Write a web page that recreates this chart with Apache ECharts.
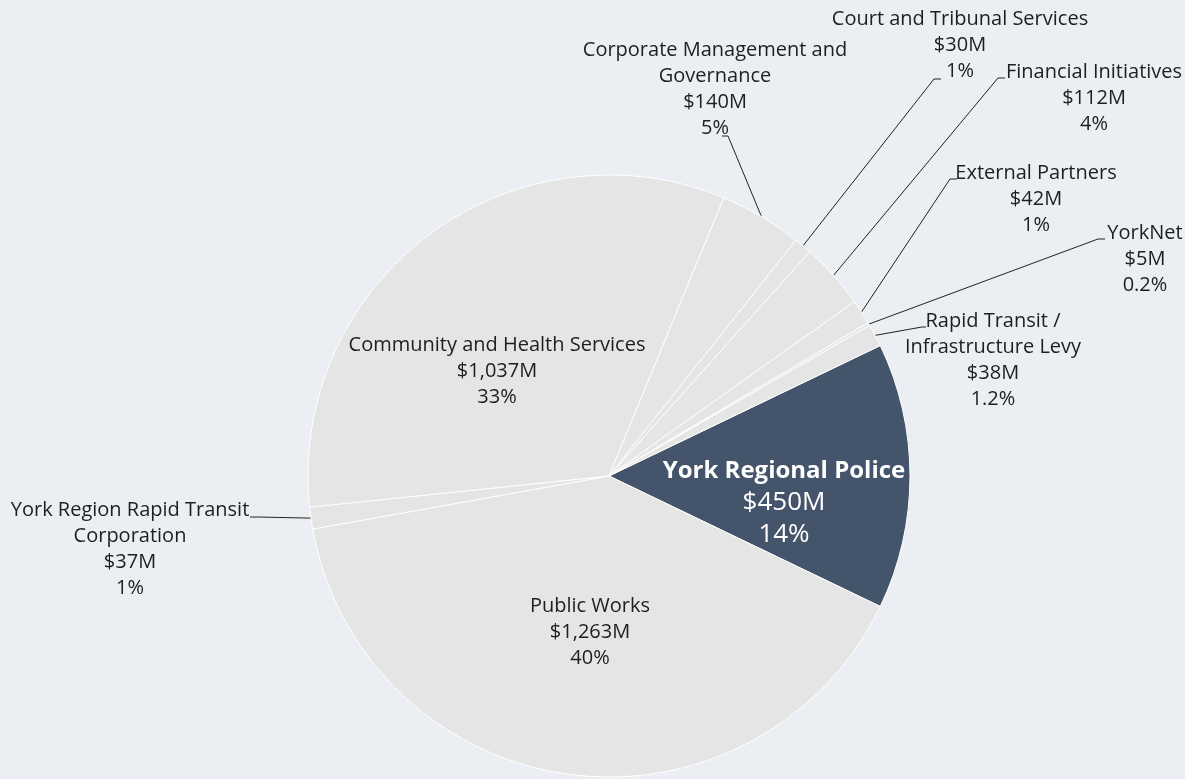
<!DOCTYPE html>
<html>
<head>
<meta charset="utf-8">
<script src="https://cdn.jsdelivr.net/npm/echarts@6/dist/echarts.min.js"></script>
<style>
html,body{margin:0;padding:0;background:#ebeff3;}
#chart{width:1185px;height:779px;}
</style>
</head>
<body>
<div id="chart"></div>
<script>
// ---- data ----
const categories = [
  'York Regional Police',
  'Public Works',
  'York Region Rapid Transit\nCorporation',
  'Community and Health Services',
  'Corporate Management and\nGovernance',
  'Court and Tribunal Services',
  'Financial Initiatives',
  'External Partners',
  'YorkNet',
  'Rapid Transit /\nInfrastructure Levy'
];
const values = [450, 1263, 37, 1037, 140, 30, 112, 42, 5, 38];
const valueLabels = ['$450M', '$1,263M', '$37M', '$1,037M', '$140M', '$30M', '$112M', '$42M', '$5M', '$38M'];
const pctLabels = ['14%', '40%', '1%', '33%', '5%', '1%', '4%', '1%', '0.2%', '1.2%'];

// ---- layout (label anchors, pixel positions) ----
const FONT = '"Open Sans", Lato, sans-serif';
const CENTER = [609, 476];
const RADIUS = 301;
const startAngle = values[0] / values.reduce((a, b) => a + b, 0) * 360 / 2;
const labelPos = {
  0: {x: 784, y: 503},
  1: {x: 590, y: 632},
  2: {x: 130, y: 549, line: [[258, 517], [250, 517]]},
  3: {x: 497, y: 371},
  4: {x: 715, y: 89, line: [[728, 136], [722, 136]]},
  5: {x: 960, y: 45, line: [[934, 79], [941, 79]]},
  6: {x: 1094, y: 98, line: [[998, 78], [1005, 78]]},
  7: {x: 1036, y: 199, line: [[950, 179], [957, 179]]},
  8: {x: 1145, y: 259, line: [[1098, 239], [1105, 239]]},
  9: {x: 993, y: 360, line: [[922, 327], [926, 327]]}
};
const insideIdx = [0, 1, 3];

const seriesData = categories.map((name, i) => {
  const inside = insideIdx.indexOf(i) >= 0;
  const item = {
    name: name,
    value: values[i],
    itemStyle: {color: i === 0 ? '#44546a' : '#e5e5e5'},
    label: {position: inside ? 'inside' : 'outside'},
    labelLine: {show: !inside}
  };
  if (i === 0) {
    item.label.formatter = '{b|' + name + '}\n{v|' + valueLabels[i] + '}\n{v|' + pctLabels[i] + '}';
    item.label.rich = {
      b: {fontFamily: FONT, fontSize: 24, fontWeight: 'bold', color: '#ffffff', lineHeight: 32},
      v: {fontFamily: FONT, fontSize: 26, color: '#ffffff', lineHeight: 32}
    };
  }
  return item;
});

const chart = echarts.init(document.getElementById('chart'));
chart.setOption({
  backgroundColor: '#ebeff3',
  animation: false,
  series: [{
    type: 'pie',
    center: CENTER,
    radius: RADIUS,
    startAngle: startAngle,
    clockwise: true,
    avoidLabelOverlap: false,
    emphasis: {disabled: true},
    itemStyle: {borderColor: '#ffffff', borderWidth: 1},
    label: {
      fontFamily: FONT,
      fontSize: 20,
      lineHeight: 26,
      color: '#1e1e1e',
      align: 'center',
      formatter: function (p) {
        return p.name + '\n' + valueLabels[p.dataIndex] + '\n' + pctLabels[p.dataIndex];
      }
    },
    labelLine: {lineStyle: {color: '#222', width: 1}, length: 20, length2: 10},
    labelLayout: function (params) {
      const i = params.dataIndex;
      const p = labelPos[i];
      const out = {x: p.x, y: p.y, align: 'center', verticalAlign: 'middle'};
      if (p.line) {
        let first = params.labelLinePoints && params.labelLinePoints[0];
        if (!first) {
          first = [CENTER[0], CENTER[1]];
        }
        out.labelLinePoints = [first, p.line[0], p.line[1]];
      }
      return out;
    },
    data: seriesData
  }]
});
</script>
</body>
</html>
